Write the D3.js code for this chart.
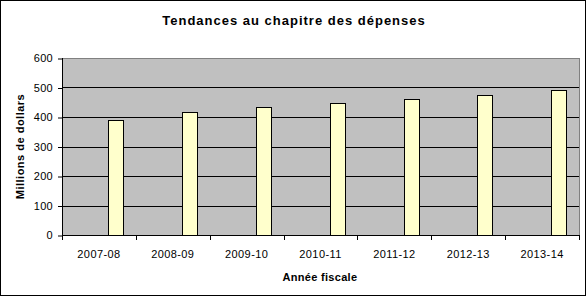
<!DOCTYPE html>
<html>
<head>
<meta charset="utf-8">
<script src="https://cdn.jsdelivr.net/npm/d3@7"></script>
<style>
  body { margin: 0; background: #fff; }
  svg text { font-family: "Liberation Sans", Arial, sans-serif; fill: #000; }
</style>
</head>
<body>
<svg id="chart" width="587" height="297"></svg>
<script>

var categories = ['2007-08', '2008-09', '2009-10', '2010-11', '2011-12', '2012-13', '2013-14'];
var depenses = [390, 416, 433, 446, 460, 474, 490];
var yTicks = [0, 100, 200, 300, 400, 500, 600];

var settings = {
  width: 587,
  height: 297,
  left: 62,
  right: 8,
  top: 58,
  bottom: 62
};

var svg = d3.select('#chart');

// cadre extérieur
svg.append('rect')
  .attr('x', 0.5).attr('y', 0.5)
  .attr('width', 585).attr('height', 295)
  .attr('fill', '#fff')
  .attr('stroke', '#000');

var plotW = settings.width - settings.left - settings.right;
var plotH = settings.height - settings.top - settings.bottom;

var g = svg.append('g')
  .attr('transform', 'translate(' + settings.left + ',' + settings.top + ')');

var scaleX = d3.scaleBand()
  .domain( categories )
  .range([ 0, plotW ]);

var scaleY = d3.scaleLinear()
  .domain([ 0, 600 ])
  .range([ plotH, 0 ]);

// fond de la zone de traçage
g.append('rect')
  .attr('width', plotW)
  .attr('height', plotH)
  .attr('fill', '#c0c0c0')
  .attr('stroke', '#808080')
  .attr('shape-rendering', 'crispEdges');

// quadrillage
g.selectAll('.grid')
  .data( yTicks.filter(function(d) { return d > 0 && d < 600 }) )
  .enter()
  .append('line')
  .attr('x1', 0).attr('x2', plotW)
  .attr('y1', function(d) { return Math.round(scaleY(d)) + 0.5 })
  .attr('y2', function(d) { return Math.round(scaleY(d)) + 0.5 })
  .attr('stroke', '#000');

// barres
g.selectAll('.bar')
  .data( depenses )
  .enter()
  .append('rect')
  .attr('x', function(d, i) { return Math.round(scaleX(categories[i]) + scaleX.bandwidth() * 0.625) + 0.5 })
  .attr('y', function(d) { return Math.round(scaleY(d)) + 0.5 })
  .attr('width', Math.round(scaleX.bandwidth() * 0.205))
  .attr('height', function(d) { return Math.round(plotH - scaleY(d)) })
  .attr('fill', '#ffffcc')
  .attr('stroke', '#000');

// axe Y
var axisY = d3.axisLeft( scaleY ).tickValues( yTicks ).tickSize( 4 ).tickPadding( 5 );
var groupY = g.append('g').call( axisY );
groupY.select('.domain').remove();
groupY.selectAll('.tick line').attr('stroke', '#000').attr('transform', 'translate(0,0.5)');
groupY.selectAll('.tick text')
  .style('font-size', '11px')
  .style('letter-spacing', '0.3px')
  .attr('dy', '0.35em');
g.append('line')
  .attr('x1', 0.5).attr('x2', 0.5)
  .attr('y1', 0).attr('y2', plotH)
  .attr('stroke', '#000');

// axe X
var axisX = d3.axisBottom( scaleX ).tickSize( 0 ).tickPadding( 15 );
var groupX = g.append('g')
  .attr('transform', 'translate(0,' + plotH + ')')
  .call( axisX );
groupX.select('.domain').remove();
groupX.selectAll('.tick text')
  .style('font-size', '11px')
  .style('letter-spacing', '0.4px');
groupX.selectAll('.sep')
  .data( categories.concat(['fin']) )
  .enter()
  .append('line')
  .attr('x1', function(d, i) { return Math.round(i * scaleX.step()) + 0.5 })
  .attr('x2', function(d, i) { return Math.round(i * scaleX.step()) + 0.5 })
  .attr('y1', 0).attr('y2', 5)
  .attr('stroke', '#000');
g.append('line')
  .attr('x1', 0).attr('x2', plotW)
  .attr('y1', plotH + 0.5).attr('y2', plotH + 0.5)
  .attr('stroke', '#000');

// titres
svg.append('text')
  .attr('x', 294).attr('y', 25)
  .attr('text-anchor', 'middle')
  .style('font-size', '13px')
  .style('font-weight', 'bold')
  .style('letter-spacing', '1px')
  .text('Tendances au chapitre des dépenses');

svg.append('text')
  .attr('x', 320).attr('y', 281)
  .attr('text-anchor', 'middle')
  .style('font-size', '11px')
  .style('font-weight', 'bold')
  .style('letter-spacing', '0.3px')
  .text('Année fiscale');

svg.append('text')
  .attr('transform', 'translate(24,' + (settings.top + plotH / 2) + ') rotate(-90)')
  .attr('text-anchor', 'middle')
  .style('font-size', '11px')
  .style('font-weight', 'bold')
  .style('letter-spacing', '0.5px')
  .text('Millions de dollars');

</script>
</body>
</html>
